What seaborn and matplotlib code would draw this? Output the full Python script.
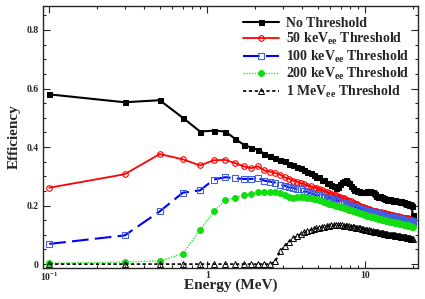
import numpy as np
import pandas as pd
import matplotlib
matplotlib.use("Agg")
import matplotlib.pyplot as plt
import matplotlib.ticker as mticker
import seaborn as sns

# Energy grid (MeV)
energy = [0.1, 0.3, 0.5, 0.7, 0.9, 1.1, 1.3, 1.5, 1.7, 1.9,
          2.1, 2.3, 2.5, 2.7, 2.9, 3.1, 3.3, 3.5, 3.7, 3.9,
          4.1, 4.3, 4.5, 4.7, 4.9, 5.1, 5.3, 5.5, 5.7, 5.9,
          6.1, 6.3, 6.5, 6.7, 6.9, 7.1, 7.3, 7.5, 7.7, 7.9,
          8.1, 8.3, 8.5, 8.7, 8.9, 9.1, 9.3, 9.5, 9.7, 9.9,
          10.1, 10.3, 10.5, 10.7, 10.9, 11.1, 11.3, 11.5, 11.7, 11.9,
          12.1, 12.3, 12.5, 12.7, 12.9, 13.1, 13.3, 13.5, 13.7, 13.9,
          14.1, 14.3, 14.5, 14.7, 14.9, 15.1, 15.3, 15.5, 15.7, 15.9,
          16.1, 16.3, 16.5, 16.7, 16.9, 17.1, 17.3, 17.5, 17.7, 17.9,
          18.1, 18.3, 18.5, 18.7, 18.9, 19.1, 19.3, 19.5, 19.7, 19.9]

eff_none = [0.580, 0.553, 0.560, 0.500, 0.453, 0.456, 0.453, 0.428, 0.408, 0.398,
            0.390, 0.377, 0.368, 0.363, 0.356, 0.351, 0.343, 0.339, 0.332, 0.328,
            0.321, 0.316, 0.310, 0.306, 0.299, 0.297, 0.289, 0.286, 0.278, 0.276,
            0.270, 0.266, 0.259, 0.263, 0.272, 0.281, 0.284, 0.286, 0.282, 0.278,
            0.267, 0.261, 0.254, 0.253, 0.249, 0.249, 0.246, 0.247, 0.245, 0.248,
            0.247, 0.250, 0.249, 0.251, 0.248, 0.247, 0.242, 0.240, 0.234, 0.233,
            0.230, 0.231, 0.228, 0.229, 0.225, 0.225, 0.222, 0.223, 0.220, 0.222,
            0.219, 0.221, 0.218, 0.220, 0.217, 0.219, 0.216, 0.218, 0.215, 0.217,
            0.214, 0.216, 0.213, 0.215, 0.212, 0.213, 0.211, 0.212, 0.209, 0.210,
            0.207, 0.208, 0.205, 0.206, 0.203, 0.204, 0.201, 0.202, 0.199, 0.168]

eff_50 = [0.261, 0.307, 0.376, 0.358, 0.337, 0.355, 0.356, 0.345, 0.334, 0.328,
          0.334, 0.320, 0.316, 0.311, 0.305, 0.296, 0.292, 0.285, 0.282, 0.276,
          0.274, 0.268, 0.267, 0.261, 0.260, 0.255, 0.253, 0.248, 0.247, 0.242,
          0.241, 0.236, 0.235, 0.230, 0.230, 0.225, 0.225, 0.220, 0.219, 0.214,
          0.214, 0.210, 0.209, 0.205, 0.205, 0.200, 0.200, 0.196, 0.196, 0.192,
          0.192, 0.189, 0.189, 0.186, 0.186, 0.183, 0.183, 0.180, 0.181, 0.178,
          0.179, 0.176, 0.177, 0.174, 0.175, 0.172, 0.173, 0.170, 0.171, 0.168,
          0.170, 0.167, 0.168, 0.166, 0.167, 0.164, 0.166, 0.163, 0.164, 0.162,
          0.163, 0.161, 0.162, 0.159, 0.161, 0.158, 0.159, 0.157, 0.158, 0.155,
          0.157, 0.154, 0.156, 0.153, 0.154, 0.152, 0.153, 0.150, 0.152, 0.150]

eff_100 = [0.069, 0.098, 0.180, 0.244, 0.252, 0.289, 0.297, 0.293, 0.291, 0.291,
           0.293, 0.285, 0.282, 0.278, 0.271, 0.268, 0.262, 0.261, 0.256, 0.255,
           0.249, 0.247, 0.242, 0.240, 0.235, 0.235, 0.230, 0.230, 0.226, 0.226,
           0.221, 0.221, 0.217, 0.217, 0.213, 0.213, 0.209, 0.208, 0.204, 0.204,
           0.200, 0.200, 0.196, 0.196, 0.192, 0.192, 0.189, 0.189, 0.185, 0.186,
           0.182, 0.183, 0.179, 0.180, 0.176, 0.177, 0.174, 0.175, 0.172, 0.173,
           0.170, 0.171, 0.168, 0.169, 0.166, 0.167, 0.164, 0.165, 0.162, 0.164,
           0.161, 0.162, 0.160, 0.161, 0.158, 0.160, 0.157, 0.158, 0.156, 0.157,
           0.155, 0.156, 0.153, 0.155, 0.152, 0.153, 0.151, 0.152, 0.149, 0.151,
           0.148, 0.150, 0.147, 0.148, 0.146, 0.147, 0.145, 0.146, 0.144, 0.145]

eff_200 = [0.003, 0.007, 0.011, 0.036, 0.117, 0.180, 0.219, 0.227, 0.236, 0.241,
           0.245, 0.245, 0.246, 0.245, 0.243, 0.236, 0.228, 0.226, 0.228, 0.229,
           0.228, 0.226, 0.225, 0.223, 0.221, 0.219, 0.216, 0.213, 0.210, 0.207,
           0.205, 0.202, 0.200, 0.198, 0.196, 0.194, 0.192, 0.190, 0.188, 0.186,
           0.184, 0.182, 0.180, 0.179, 0.177, 0.176, 0.174, 0.172, 0.171, 0.169,
           0.168, 0.166, 0.165, 0.164, 0.162, 0.161, 0.160, 0.159, 0.157, 0.156,
           0.155, 0.154, 0.153, 0.152, 0.151, 0.150, 0.149, 0.148, 0.147, 0.147,
           0.146, 0.145, 0.145, 0.144, 0.143, 0.143, 0.142, 0.141, 0.141, 0.140,
           0.140, 0.139, 0.138, 0.138, 0.137, 0.136, 0.136, 0.135, 0.134, 0.134,
           0.133, 0.133, 0.132, 0.131, 0.131, 0.130, 0.130, 0.129, 0.128, 0.128]

eff_1000 = [0.000, 0.000, 0.000, 0.000, 0.000, 0.000, 0.000, 0.000, 0.000, 0.000,
            0.000, 0.000, 0.000, 0.010, 0.045, 0.063, 0.076, 0.088, 0.096, 0.103,
            0.108, 0.112, 0.116, 0.119, 0.122, 0.124, 0.126, 0.128, 0.130, 0.131,
            0.132, 0.133, 0.133, 0.133, 0.132, 0.132, 0.131, 0.130, 0.130, 0.129,
            0.128, 0.127, 0.126, 0.125, 0.124, 0.123, 0.122, 0.121, 0.120, 0.118,
            0.117, 0.116, 0.115, 0.114, 0.113, 0.112, 0.111, 0.110, 0.109, 0.108,
            0.108, 0.107, 0.106, 0.106, 0.105, 0.104, 0.103, 0.103, 0.102, 0.101,
            0.101, 0.100, 0.100, 0.099, 0.099, 0.098, 0.098, 0.097, 0.097, 0.096,
            0.096, 0.095, 0.095, 0.094, 0.094, 0.093, 0.093, 0.092, 0.092, 0.091,
            0.091, 0.090, 0.090, 0.089, 0.089, 0.088, 0.088, 0.087, 0.087, 0.086]

labels = ["No Threshold",
          r"50 keV$_{\rm ee}$ Threshold",
          r"100 keV$_{\rm ee}$ Threshold",
          r"200 keV$_{\rm ee}$ Threshold",
          r"1 MeV$_{\rm ee}$ Threshold"]

sns.set_style("ticks")
plt.rcParams["font.family"] = ["Liberation Serif", "DejaVu Serif"]
plt.rcParams["font.weight"] = "bold"
plt.rcParams["mathtext.fontset"] = "custom"
plt.rcParams["mathtext.rm"] = "Liberation Serif:bold"
plt.rcParams["mathtext.it"] = "Liberation Serif:bold"
plt.rcParams["mathtext.bf"] = "Liberation Serif:bold"

fig = plt.figure(figsize=(4.25, 2.99), dpi=100)
ax = fig.add_axes([0.101, 0.104, 0.883, 0.876])

styles = [
    dict(color="black", linestyle="-", marker="s", markersize=3.6, mfc="black", mec="black", lw=1.5),
    dict(color="red", linestyle="-", marker="o", markersize=4.0, mfc="none", mec="red", mew=0.8, lw=1.3),
    dict(color="blue", linestyle=(0, (8, 3)), marker="s", markersize=4.0, mfc="none", mec="#4060e0", mew=0.8, lw=1.5),
    dict(color="#22ee22", linestyle=(0, (1, 1)), marker="o", markersize=4.2, mfc="#11dd11", mec="#11dd11", lw=1.0),
    dict(color="black", linestyle=(0, (2, 1.5)), marker="^", markersize=4.0, mfc="none", mec="black", mew=0.7, lw=1.2),
]
series = [eff_none, eff_50, eff_100, eff_200, eff_1000]

for ys, lab, st in zip(series, labels, styles):
    df = pd.DataFrame({"Energy": energy, "Efficiency": ys})
    sns.lineplot(data=df, x="Energy", y="Efficiency", ax=ax, label=lab,
                 estimator=None, sort=True, **st)

ax.set_xscale("log")
ax.set_xlim(0.0912, 21.6)
ax.set_ylim(-0.013, 0.882)

ax.xaxis.set_major_locator(mticker.FixedLocator([0.1, 1, 10]))
ax.xaxis.set_major_formatter(mticker.FixedFormatter([r"10$^{-1}$", "1", "10"]))
ax.xaxis.set_minor_locator(mticker.LogLocator(base=10, subs=np.arange(2, 10)))
ax.xaxis.set_minor_formatter(mticker.NullFormatter())
ax.yaxis.set_major_locator(mticker.MultipleLocator(0.2))
ax.yaxis.set_minor_locator(mticker.MultipleLocator(0.05))
ax.yaxis.set_major_formatter(mticker.FuncFormatter(lambda v, p: "0" if abs(v) < 1e-9 else f"{v:.1f}"))

ax.tick_params(which="both", direction="in", top=True, right=True, width=0.8, labelsize=7)
ax.tick_params(which="major", length=5)
ax.tick_params(which="minor", length=2.5)
for lab in ax.get_xticklabels() + ax.get_yticklabels():
    lab.set_fontweight("bold")
ax.tick_params(axis="x", pad=2)
ax.tick_params(axis="y", pad=3)
for sp in ax.spines.values():
    sp.set_linewidth(1.0)

ax.set_xlabel("Energy (MeV)", fontsize=11, fontweight="bold", labelpad=-3)
ax.set_ylabel("Efficiency", fontsize=11, fontweight="bold", labelpad=4)

leg = ax.legend(loc="upper left", bbox_to_anchor=(0.51, 0.99), frameon=False,
                fontsize=10, handlelength=2.6, handletextpad=0.5,
                labelspacing=0.1, borderaxespad=0.2)
for t in leg.get_texts():
    t.set_fontweight("bold")

fig.savefig("out.png", dpi=100)
